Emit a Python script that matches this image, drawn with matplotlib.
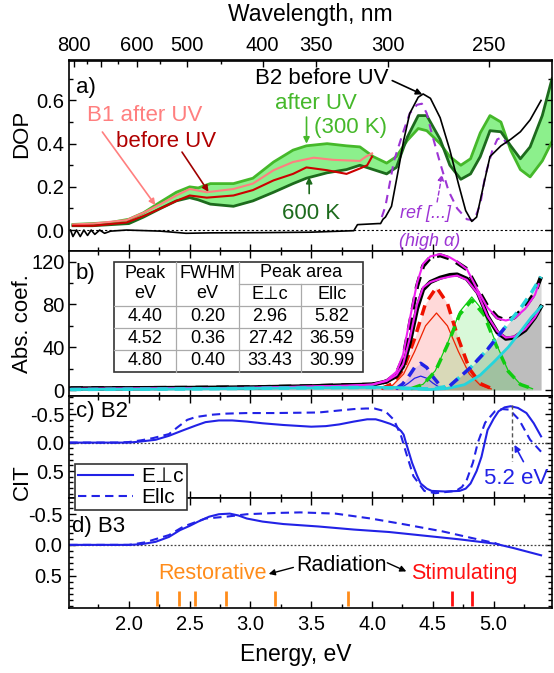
import numpy as np
import matplotlib
matplotlib.use('Agg')
import matplotlib.pyplot as plt
from matplotlib.ticker import MultipleLocator, FixedLocator, FixedFormatter, FormatStrFormatter

plt.rcParams['font.family'] = ['Liberation Sans', 'DejaVu Sans']
plt.rcParams['axes.unicode_minus'] = False

# ---------------- a) DOP ----------------
band_E = [1.54, 1.70, 1.85, 2.00, 2.12, 2.26, 2.39, 2.50, 2.57, 2.67, 2.86, 3.02, 3.19, 3.35,
          3.46, 3.63, 3.79, 3.90, 4.01, 4.12, 4.20, 4.29, 4.38, 4.45, 4.56, 4.64, 4.73, 4.81,
          4.89, 4.97, 5.06, 5.14, 5.22, 5.30, 5.40, 5.48]
dop_300K = [0.026, 0.03, 0.035, 0.05, 0.08, 0.13, 0.175, 0.20, 0.195, 0.215, 0.215, 0.24, 0.315, 0.37,
            0.39, 0.40, 0.39, 0.385, 0.34, 0.31, 0.34, 0.415, 0.47, 0.46, 0.40, 0.34, 0.30, 0.33,
            0.45, 0.53, 0.50, 0.37, 0.28, 0.246, 0.32, 0.41]
dop_600K = [0.02, 0.02, 0.025, 0.03, 0.06, 0.10, 0.135, 0.15, 0.14, 0.12, 0.11, 0.135, 0.175, 0.215,
            0.24, 0.265, 0.28, 0.30, 0.28, 0.26, 0.29, 0.43, 0.53, 0.53, 0.42, 0.30, 0.235, 0.26,
            0.34, 0.46, 0.455, 0.39, 0.33, 0.385, 0.53, 0.70]

b1_after_E = [1.54, 1.71, 1.98, 2.12, 2.26, 2.39, 2.50, 2.64, 2.86, 3.02, 3.19, 3.35, 3.52, 3.68, 3.90, 3.95, 4.00]
b1_after = [0.026, 0.03, 0.046, 0.08, 0.12, 0.16, 0.19, 0.175, 0.19, 0.215, 0.277, 0.315, 0.335, 0.325, 0.32, 0.34, 0.355]
b1_before_E = [1.54, 1.71, 1.98, 2.12, 2.26, 2.39, 2.50, 2.64, 2.86, 3.02, 3.19, 3.35, 3.46, 3.63, 3.79, 3.90, 3.96, 4.00]
b1_before = [0.02, 0.02, 0.035, 0.065, 0.10, 0.135, 0.16, 0.15, 0.16, 0.185, 0.23, 0.26, 0.29, 0.277, 0.26, 0.285, 0.30, 0.34]

b2_E = [1.52, 1.54, 1.57, 1.60, 1.63, 1.66, 1.69, 1.72, 1.76, 1.80, 1.85, 1.98, 2.26, 2.47, 2.67, 3.08,
        3.49, 3.85, 3.88, 4.05, 4.07, 4.09, 4.11, 4.16, 4.22, 4.26, 4.31, 4.38, 4.42, 4.48, 4.56,
        4.64, 4.71, 4.77, 4.82, 4.86, 4.92, 4.97, 5.06, 5.14, 5.22, 5.30, 5.39]
b2_before = [0.0, -0.03, 0.0, -0.03, 0.0, -0.025, 0.0, -0.02, 0.0, -0.015, -0.005, 0.0, -0.005, -0.015,
             -0.013, -0.012, -0.01, -0.003, 0.025, 0.03, 0.03, 0.05, 0.06, 0.11, 0.29, 0.415, 0.54,
             0.615, 0.63, 0.61, 0.52, 0.37, 0.215, 0.09, 0.04, 0.06, 0.215, 0.34, 0.39, 0.42, 0.455,
             0.51, 0.60]

ref_E = [4.08, 4.11, 4.18, 4.26, 4.31, 4.37, 4.41, 4.45, 4.49, 4.56, 4.63, 4.70, 4.78, 4.84, 4.89,
         4.93, 4.99, 5.03, 5.07, 5.11]
ref_dop = [0.06, 0.11, 0.32, 0.46, 0.54, 0.58, 0.585, 0.54, 0.45, 0.31, 0.18, 0.10, 0.05, 0.045, 0.12,
           0.25, 0.37, 0.42, 0.43, 0.40]

# ---------------- b) absorption ----------------
abs_E = [1.52, 2.5, 3.0, 3.5, 3.8, 4.0, 4.12, 4.20, 4.255, 4.31, 4.37, 4.42, 4.48, 4.56, 4.64,
         4.70, 4.78, 4.87, 4.95, 5.03, 5.10, 5.17, 5.26, 5.34, 5.39]
abs_perp = [1.5, 2.0, 2.5, 3.5, 4.5, 5.0, 8.0, 13, 22, 44, 76, 94, 101, 105, 107.5,
            108, 104, 91, 69, 54, 48, 49, 56, 68, 78]
abs_par = [1.5, 2.0, 2.5, 3.5, 4.5, 5.0, 8.0, 15, 29, 61, 97, 116, 124, 126, 123,
           119, 113, 94, 78, 68, 65, 68, 78, 91, 106]
fit_E = [1.52, 3.0, 3.8, 4.0, 4.12, 4.20, 4.255, 4.31, 4.37, 4.42, 4.48, 4.56, 4.64, 4.70,
         4.78, 4.87, 4.95, 5.03, 5.10, 5.17, 5.26, 5.34, 5.37]
fit_perp = [1, 2, 4, 5, 8.5, 14, 24, 48, 80, 96, 101, 104, 106, 107,
            103, 90, 69, 55, 49, 50, 57, 68, 74]
fit_par = [1, 2, 4, 5, 9, 17, 33, 66, 100, 118, 125, 127, 124, 120,
           113, 93, 77, 67, 65, 67, 76, 89, 99]

bg_perp_E = [1.52, 2.5, 3.5, 4.0, 4.17, 4.34, 4.48, 4.62, 4.76, 4.89, 5.00, 5.12, 5.23, 5.31, 5.39]
bg_perp = [0.5, 1.0, 2.0, 2.5, 2.5, 1.5, 0.5, 1.5, 5, 14, 26, 40, 56, 68, 78]
bg_par_E = [1.52, 2.5, 3.5, 4.0, 4.28, 4.50, 4.64, 4.81, 4.95, 5.09, 5.23, 5.31, 5.39]
bg_par = [0.5, 1.0, 2.0, 2.5, 1.5, 1.0, 4, 21, 38, 58, 78, 91, 106]

# peak components (energy, value)
p1_E = [4.20, 4.25, 4.30, 4.35, 4.40, 4.45, 4.50, 4.55, 4.60]
p1_perp = [0.8, 2.8, 6.5, 11, 13, 11, 6.5, 2.8, 0.8]
p1_par = [1.5, 5.5, 12.5, 21, 25, 21, 12.5, 5.5, 1.5]
p2_E = [4.08, 4.17, 4.26, 4.35, 4.44, 4.53, 4.62, 4.71, 4.80, 4.89, 4.98]
p2_perp = [1, 4.5, 15, 36, 60, 72, 60, 36, 15, 4.5, 1]
p2_par = [1.5, 6, 20, 48, 81, 96, 81, 48, 20, 6, 1.5]
p3_E = [4.32, 4.42, 4.52, 4.62, 4.72, 4.82, 4.92, 5.02, 5.12, 5.22, 5.32]
p3_perp = [1.2, 5.4, 18, 43.5, 73, 87, 73, 43.5, 18, 5.4, 1.2]
p3_par = [1.2, 5.2, 17.5, 42, 70.5, 84, 70.5, 42, 17.5, 5.2, 1.2]

tab_peak = [4.40, 4.52, 4.80]
tab_fwhm = [0.20, 0.36, 0.40]
tab_area_perp = [2.96, 27.42, 33.43]
tab_area_par = [5.82, 36.59, 30.99]

# ---------------- c) B2 and d) B3 CIT ----------------
c_perp_E = [1.51, 2.00, 2.10, 2.22, 2.33, 2.45, 2.55, 2.63, 2.74, 2.85, 2.97, 3.10, 3.27, 3.50, 3.62,
            3.73, 3.85, 3.96, 4.03, 4.08, 4.15, 4.20, 4.24, 4.26, 4.28, 4.33, 4.37, 4.40, 4.45,
            4.49, 4.60, 4.72, 4.77, 4.81, 4.86, 4.90, 4.95, 5.00, 5.04, 5.09, 5.14, 5.20, 5.27,
            5.33, 5.39]
c_perp = [0.0, 0.0, -0.02, -0.05, -0.12, -0.22, -0.30, -0.36, -0.39, -0.39, -0.37, -0.34, -0.31,
          -0.28, -0.29, -0.32, -0.37, -0.41, -0.41, -0.38, -0.33, -0.28, -0.20, -0.14, 0.01, 0.36,
          0.58, 0.72, 0.81, 0.85, 0.86, 0.85, 0.81, 0.72, 0.50, 0.25, -0.22, -0.42, -0.55, -0.62,
          -0.64, -0.61, -0.52, -0.34, -0.11]
c_par_E = [1.51, 1.90, 2.00, 2.10, 2.20, 2.33, 2.40, 2.48, 2.55, 2.68, 2.80, 2.97, 3.20, 3.56, 3.85,
           3.95, 4.02, 4.11, 4.18, 4.24, 4.28, 4.34, 4.43, 4.52, 4.69, 4.74, 4.78, 4.83, 4.87,
           4.93, 5.01, 5.07, 5.13, 5.21, 5.30, 5.39]
c_par = [0.0, 0.0, -0.01, -0.04, -0.08, -0.15, -0.27, -0.40, -0.45, -0.49, -0.51, -0.52, -0.52,
         -0.53, -0.59, -0.60, -0.60, -0.55, -0.40, -0.11, 0.18, 0.59, 0.85, 0.89, 0.85, 0.78,
         0.65, 0.35, 0.0, -0.35, -0.55, -0.59, -0.58, -0.40, -0.05, 0.16]

d_perp_E = [1.51, 2.00, 2.10, 2.22, 2.33, 2.42, 2.50, 2.57, 2.66, 2.74, 2.83, 2.90, 2.97, 3.10, 3.27,
            3.56, 3.85, 4.14, 4.43, 4.72, 5.01, 5.16, 5.39]
d_perp = [0.0, 0.0, -0.01, -0.05, -0.13, -0.24, -0.31, -0.38, -0.46, -0.50, -0.51, -0.48, -0.43,
          -0.38, -0.34, -0.30, -0.25, -0.21, -0.15, -0.09, -0.02, 0.05, 0.17]
d_par_E = [1.51, 2.00, 2.13, 2.33, 2.45, 2.63, 2.80, 2.97, 3.20, 3.41, 3.70, 3.99, 4.28, 4.58, 4.87,
           5.01, 5.05]
d_par = [0.0, 0.0, -0.04, -0.16, -0.30, -0.43, -0.46, -0.50, -0.52, -0.53, -0.51, -0.43, -0.33,
         -0.22, -0.09, -0.03, 0.0]

restorative_E = [2.23, 2.41, 2.54, 2.80, 3.20, 3.80]
stimulating_E = [4.66, 4.82]

wl_major = [800, 700, 600, 500, 400, 350, 300, 250]
wl_labels = ['800', '', '600', '500', '400', '350', '300', '250']
wl_minor = [750, 650, 550, 450]

# colours
c_green = '#45b82a'
c_band = '#8cf08c'
c_dgreen = '#1d6b1d'
c_salmon = '#ff7f7f'
c_red = '#cc0000'
c_purple = '#9d35d4'
c_blue = '#2222e6'
c_orange = '#ff8c1a'
c_mag = '#f020f0'
c_cyan = '#25d5dc'

W_PX, H_PX = 554, 673
fig = plt.figure(figsize=(W_PX / 100, H_PX / 100), dpi=100)
left = 69.3 / W_PX
width = (552 - 69.3) / W_PX


def add(top, bottom):
    return fig.add_axes([left, (H_PX - bottom) / H_PX, width, (bottom - top) / H_PX])


ax_a = add(60.5, 251)
ax_b = add(251, 396)
ax_c = add(396, 498.3)
ax_d = add(498.3, 608)

for ax in (ax_a, ax_b, ax_c, ax_d):
    ax.set_xlim(1.51, 5.48)
    ax.xaxis.set_major_locator(MultipleLocator(0.5))
    ax.xaxis.set_minor_locator(MultipleLocator(0.25))
    ax.tick_params(which='both', direction='in', top=True, right=True, labelsize=14.5,
                   labelbottom=False, width=1)
    ax.tick_params(which='major', length=5)
    ax.tick_params(which='minor', length=3)
    for s in ax.spines.values():
        s.set_linewidth(1.2)
ax_d.tick_params(labelbottom=True, pad=5)
ax_a.tick_params(which='both', top=False)

# ---- panel a ----
ax_a.set_ylim(-0.097, 0.785)
ax_a.yaxis.set_major_locator(MultipleLocator(0.2))
ax_a.yaxis.set_minor_locator(MultipleLocator(0.1))
ax_a.yaxis.set_major_formatter(FormatStrFormatter('%.1f'))
ax_a.axhline(0, color='k', ls=(0, (2, 2)), lw=0.8)
ax_a.fill_between(band_E, dop_600K, dop_300K, color=c_band, lw=0)
ax_a.plot(band_E, dop_300K, color=c_green, lw=2)
ax_a.plot(band_E, dop_600K, color=c_dgreen, lw=2)
ax_a.plot(b1_after_E, b1_after, color=c_salmon, lw=1.5)
ax_a.plot(b1_before_E, b1_before, color=c_red, lw=1.5)
ax_a.plot(ref_E, ref_dop, color=c_purple, lw=1.5, ls=(0, (4, 3)))
ax_a.plot(b2_E, b2_before, color='k', lw=1.2)

arr = dict(arrowstyle='-|>', lw=1.2, mutation_scale=9, shrinkA=0, shrinkB=0)
ax_a.text(1.569, 0.661, 'a)', fontsize=16, va='center')
ax_a.text(3.586, 0.70, 'B2 before UV', fontsize=16, ha='center', va='center')
ax_a.annotate('', xy=(4.413, 0.628), xytext=(4.166, 0.692), arrowprops=dict(arr, color='k'))
ax_a.text(3.535, 0.585, 'after UV', fontsize=16, ha='center', va='center', color=c_green)
ax_a.text(3.82, 0.477, '(300 K)', fontsize=16, ha='center', va='center', color=c_green)
ax_a.annotate('', xy=(3.461, 0.40), xytext=(3.461, 0.523), arrowprops=dict(arr, color=c_green))
ax_a.text(2.131, 0.531, 'B1 after UV', fontsize=16, ha='center', va='center', color=c_salmon)
ax_a.annotate('', xy=(2.218, 0.115), xytext=(1.782, 0.454), arrowprops=dict(arr, color=c_salmon))
ax_a.text(2.305, 0.408, 'before UV', fontsize=16, ha='center', va='center', color='#b00000')
ax_a.annotate('', xy=(2.655, 0.177), xytext=(2.437, 0.361), arrowprops=dict(arr, color='#a00000'))
ax_a.text(3.499, 0.077, '600 K', fontsize=16, ha='center', va='center', color=c_dgreen)
ax_a.annotate('', xy=(3.483, 0.246), xytext=(3.483, 0.169), arrowprops=dict(arr, color=c_dgreen))
ax_a.text(4.436, 0.077, 'ref [...]', fontsize=13, ha='center', va='center', color=c_purple,
          style='italic')
ax_a.annotate('', xy=(4.576, 0.258), xytext=(4.535, 0.13),
              arrowprops=dict(arr, color=c_purple, lw=1, ls=(0, (3, 2))))
ax_a.text(4.47, -0.054, '(high α)', fontsize=13, ha='center', va='center', color=c_purple,
          style='italic')

conv = 1239.84
sec = ax_a.secondary_xaxis('top', functions=(lambda e: conv / np.asarray(e, float),
                                             lambda w: conv / np.asarray(w, float)))
sec.xaxis.set_major_locator(FixedLocator(wl_major))
sec.xaxis.set_major_formatter(FixedFormatter(wl_labels))
sec.xaxis.set_minor_locator(FixedLocator(wl_minor))
sec.tick_params(which='both', direction='in', labelsize=14.5, width=1, pad=4)
sec.tick_params(which='major', length=5)
sec.tick_params(which='minor', length=3)
sec.spines['top'].set_linewidth(1.2)

# ---- panel b ----
ax_b.set_ylim(-5.6, 130)
ax_b.yaxis.set_major_locator(MultipleLocator(40))
ax_b.yaxis.set_minor_locator(MultipleLocator(20))
ax_b.fill_between(bg_par_E, 0, bg_par, color='#808080', alpha=0.3, lw=0)
ax_b.fill_between(bg_perp_E, 0, bg_perp, color='#808080', alpha=0.3, lw=0)
ax_b.fill_between(p2_E, 0, p2_par, color='red', alpha=0.15, lw=0)
ax_b.fill_between(p3_E, 0, p3_par, color='#00dd00', alpha=0.15, lw=0)
ax_b.fill_between(p1_E, 0, p1_par, color='#4030ff', alpha=0.15, lw=0)
ax_b.plot(p1_E, p1_perp, color=c_blue, lw=0.9)
ax_b.plot(p2_E, p2_perp, color='#ee2200', lw=0.9)
ax_b.plot(p3_E, p3_perp, color='#11cc11', lw=0.9)
ax_b.plot(p1_E, p1_par, color=c_blue, lw=2.5, ls=(0, (3, 2)))
ax_b.plot(p2_E, p2_par, color='#ee1100', lw=2.5, ls=(0, (3, 2)))
ax_b.plot(p3_E, p3_par, color='#11cc11', lw=2.5, ls=(0, (3, 2)))
ax_b.plot(abs_E, abs_perp, color='k', lw=3)
ax_b.plot(abs_E, abs_par, color='k', lw=3, ls=(0, (3, 2)))
ax_b.plot(fit_E, fit_perp, color=c_mag, lw=1.5)
ax_b.plot(fit_E, fit_par, color=c_mag, lw=1.5)
ax_b.plot(bg_perp_E, bg_perp, color=c_cyan, lw=2)
ax_b.plot(bg_par_E, bg_par, color=c_cyan, lw=2.5, ls=(0, (3, 2)))
bpE = np.array(bg_par_E)
seg = (bpE >= 4.6) & (bpE <= 5.1)
ax_b.plot(bpE[seg], np.array(bg_par)[seg], color=c_blue, lw=2.5, ls=(0, (3, 2)))
ax_b.text(1.564, 109.4, 'b)', fontsize=16, va='center')

# table
cols = [0.0926, 0.221, 0.352, 0.480, 0.608]
rows = [0.926, 0.774, 0.623, 0.471, 0.319, 0.168]
tr = ax_b.transAxes
ax_b.add_patch(plt.Rectangle((cols[0], rows[-1]), cols[-1] - cols[0], rows[0] - rows[-1],
                             transform=tr, fc='white', ec='#333333', lw=1.2, zorder=5))
gl = dict(color='#aaaaaa', lw=0.9, transform=tr, zorder=6)
for x in cols[1:3]:
    ax_b.plot([x, x], [rows[-1], rows[0]], **gl)
ax_b.plot([cols[3], cols[3]], [rows[-1], rows[1]], **gl)
ax_b.plot([cols[2], cols[4]], [rows[1], rows[1]], **gl)
for y in rows[2:5]:
    ax_b.plot([cols[0], cols[4]], [y, y], **gl)
tk = dict(transform=tr, fontsize=13, ha='center', va='center', zorder=7)
hy = (rows[0] + rows[2]) / 2
ax_b.text((cols[0] + cols[1]) / 2, hy, 'Peak\neV', linespacing=1.2, **tk)
ax_b.text((cols[1] + cols[2]) / 2, hy, 'FWHM\neV', linespacing=1.2, **tk)
ax_b.text((cols[2] + cols[4]) / 2, (rows[0] + rows[1]) / 2, 'Peak area', **tk)
ax_b.text((cols[2] + cols[3]) / 2, (rows[1] + rows[2]) / 2, 'E⊥c', **tk)
ax_b.text((cols[3] + cols[4]) / 2, (rows[1] + rows[2]) / 2, 'Ellc', **tk)
for i in range(3):
    yc = (rows[2 + i] + rows[3 + i]) / 2
    vals = [tab_peak[i], tab_fwhm[i], tab_area_perp[i], tab_area_par[i]]
    for j, v in enumerate(vals):
        ax_b.text((cols[j] + cols[j + 1]) / 2, yc, f'{v:.2f}', **tk)

# ---- panel c ----
for ax in (ax_c, ax_d):
    ax.yaxis.set_major_locator(FixedLocator([-0.5, 0.0, 0.5]))
    ax.yaxis.set_minor_locator(MultipleLocator(0.1))
    ax.yaxis.set_major_formatter(FormatStrFormatter('%.1f'))
    ax.axhline(0, color='#444444', ls=(0, (1.5, 1.5)), lw=0.9)
ax_c.set_ylim(0.98, -0.82)
l1, = ax_c.plot(c_perp_E, c_perp, color=c_blue, lw=1.5, label='E⊥c')
l2, = ax_c.plot(c_par_E, c_par, color=c_blue, lw=1.5, ls=(0, (4, 2.5)), label='Ellc')
ax_c.plot([5.15, 5.15], [-0.66, 0.33], color='#555555', lw=1, ls=(0, (3, 2)))
ax_c.annotate('', xy=(5.171, 0.04), xytext=(5.245, 0.335), arrowprops=dict(arr, color=c_blue))
ax_c.text(4.924, 0.628, '5.2 eV', fontsize=16, va='center', color=c_blue)
ax_c.text(1.563, -0.547, 'c) B2', fontsize=16, va='center')

# ---- panel d ----
ax_d.set_ylim(1.03, -0.76)
ax_d.plot(d_perp_E, d_perp, color=c_blue, lw=1.5)
ax_d.plot(d_par_E, d_par, color=c_blue, lw=1.5, ls=(0, (4, 2.5)))
ax_d.vlines(restorative_E, 0.757, 0.99, color=c_orange, lw=2)
ax_d.vlines(stimulating_E, 0.757, 0.99, color='#ff1010', lw=2)
ax_d.text(1.53, -0.297, 'd) B3', fontsize=16, va='center')
ax_d.text(3.75, 0.34, 'Radiation', fontsize=15.5, ha='center', va='center')
ax_d.text(2.684, 0.475, 'Restorative', fontsize=15.5, ha='center', va='center', color=c_orange)
ax_d.text(4.76, 0.475, 'Stimulating', fontsize=15.5, ha='center', va='center', color='#ff1010')
ax_d.annotate('', xy=(3.15, 0.475), xytext=(3.353, 0.368), arrowprops=dict(arr, color='k', lw=1))
ax_d.annotate('', xy=(4.282, 0.433), xytext=(4.125, 0.292), arrowprops=dict(arr, color='k', lw=1))

leg = fig.legend(handles=[l1, l2], loc='upper left', bbox_to_anchor=(75.3 / W_PX, 1 - 464 / H_PX),
                 fontsize=15, frameon=True, fancybox=False, edgecolor='#333333', framealpha=1,
                 handlelength=2.6, borderpad=0.15, labelspacing=0.1, handletextpad=0.4,
                 borderaxespad=0)
leg.get_frame().set_linewidth(1.2)

# axis labels
fig.text(22 / W_PX, 1 - 134 / H_PX, 'DOP', rotation=90, fontsize=16, ha='center', va='center')
fig.text(23 / W_PX, 1 - 323.5 / H_PX, 'Abs. coef.', rotation=90, fontsize=16, ha='center', va='center')
fig.text(22 / W_PX, 1 - 482 / H_PX, 'CIT', rotation=90, fontsize=16, ha='center', va='center')
fig.text(310 / W_PX, 1 - 15 / H_PX, 'Wavelength, nm', fontsize=16.5, ha='center', va='center')
fig.text(296 / W_PX, 1 - 655 / H_PX, 'Energy, eV', fontsize=16.5, ha='center', va='center')

fig.savefig('out.png', dpi=100)
